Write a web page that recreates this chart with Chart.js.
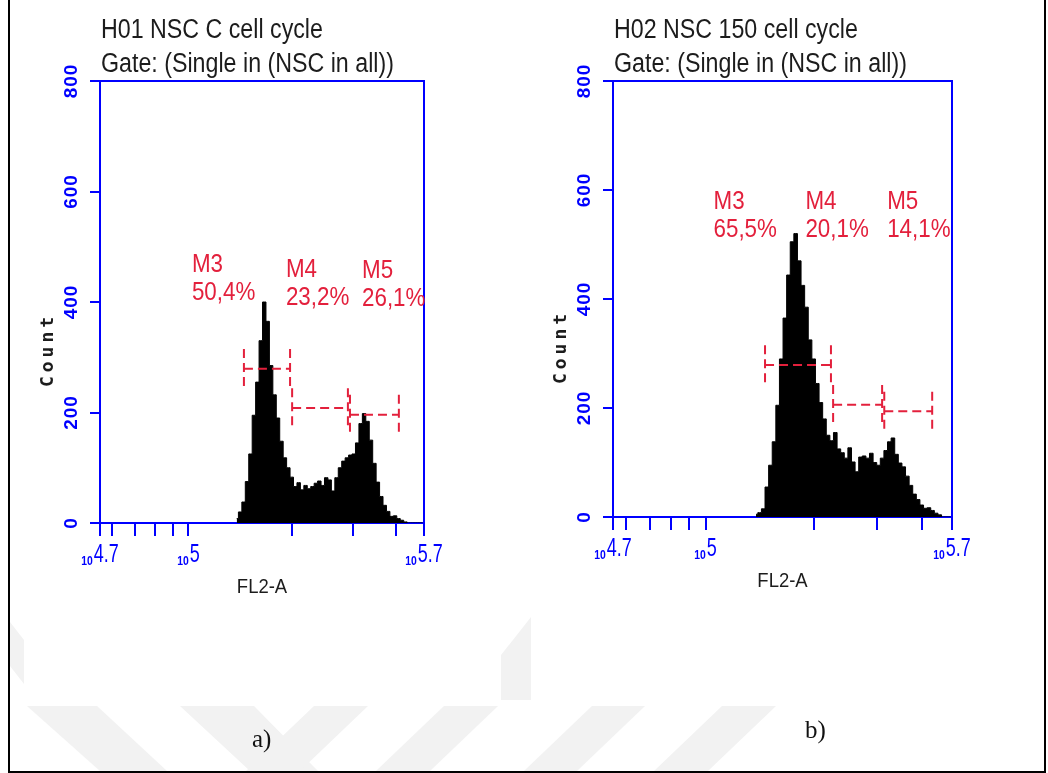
<!DOCTYPE html>
<html>
<head>
<meta charset="utf-8">
<script src="https://cdn.jsdelivr.net/npm/chart.js@4.4.1/dist/chart.umd.min.js"></script>
<style>
  html, body { margin: 0; padding: 0; background: #fff; }
  #page { position: relative; width: 1048px; height: 773px; overflow: hidden; background: #fff; }
  #wm { position: absolute; left: 0; top: 0; }
  canvas { position: absolute; top: 0; }
  #chartA { left: 0; }
  #chartB { left: 524px; }
  .frame { position: absolute; left: 8px; top: 0; width: 1038px; height: 773px; border: 2px solid #000; border-top: none; box-sizing: border-box; }
  .sub { position: absolute; font-family: "Liberation Serif", "DejaVu Serif", serif; font-size: 25px; color: #111; }
</style>
</head>
<body>
<div id="page">
  <svg id="wm" width="1048" height="773">
    <g fill="#f2f2f2">
      <polygon points="10,622 24,640 24,684 10,666"/>
      <polygon points="501,655 531,617 531,700 501,700"/>
      <polygon points="27,706 97,706 167,771 100,771"/>
      <polygon points="180,706 254,706 318,771 250,771"/>
      <polygon points="314,706 368,706 300,771 246,771"/>
      <polygon points="444,706 498,706 430,771 376,771"/>
      <polygon points="592,706 645,706 577,771 524,771"/>
      <polygon points="722,706 776,706 708,771 654,771"/>
    </g>
  </svg>
  <canvas id="chartA" width="524" height="773"></canvas>
  <canvas id="chartB" width="524" height="773"></canvas>
  <div class="frame"></div>
  <div class="sub" style="left:252px; top:725px;">a)</div>
  <div class="sub" style="left:805px; top:716px;">b)</div>
</div>
<script>
// FL2-A axis is log10 of the channel value
const xMin = 4.743;
const xMax = 5.684;
const xTicks = [4.743, 4.778, 4.845, 4.903, 4.954, 5, 5.301, 5.477, 5.602, 5.684];
const xLabelTicks = [4.743, 5, 5.684];
const xLabelText = ["4.7", "5", "5.7"];
const yTicks = [0, 200, 400, 600, 800];

// histogram bins (log10 FL2-A)
const binLog = [5.14, 5.15, 5.16, 5.17, 5.18, 5.19, 5.20, 5.21, 5.22, 5.23,
  5.24, 5.25, 5.26, 5.27, 5.28, 5.29, 5.30, 5.31, 5.32, 5.33,
  5.34, 5.35, 5.36, 5.37, 5.38, 5.39, 5.40, 5.41, 5.42, 5.43,
  5.44, 5.45, 5.46, 5.47, 5.48, 5.49, 5.50, 5.51, 5.52, 5.53,
  5.54, 5.55, 5.56, 5.57, 5.58, 5.59, 5.60, 5.61, 5.62, 5.63,
  5.64, 5.65, 5.66, 5.67, 5.68];

const countsA = [8, 20, 38, 75, 125, 195, 255, 330, 400, 365,
  285, 232, 190, 148, 118, 100, 83, 66, 73, 60,
  68, 62, 66, 72, 76, 68, 82, 78, 58, 82,
  100, 112, 118, 123, 125, 145, 180, 198, 184, 150,
  108, 74, 48, 32, 21, 12, 13, 8, 5, 2,
  0, 0, 0, 0, 0];

const countsB = [5, 8, 15, 55, 95, 138, 205, 290, 365, 444,
  505, 520, 470, 425, 385, 325, 290, 245, 210, 180,
  150, 140, 155, 125, 118, 108, 127, 101, 83, 110,
  112, 108, 117, 100, 95, 108, 122, 138, 145, 115,
  99, 92, 75, 58, 42, 32, 22, 16, 17, 12,
  7, 4, 0, 0, 0];

const titlesA = ["H01 NSC C cell cycle", "Gate: (Single in (NSC in all))"];
const titlesB = ["H02 NSC 150 cell cycle", "Gate: (Single in (NSC in all))"];

// gates
const markerNames = ["M3", "M4", "M5"];
const markerStartA = [5.161, 5.301, 5.469];
const markerEndA = [5.295, 5.463, 5.611];
const markerLevelA = [279, 208, 196];
const percentA = ["50,4%", "23,2%", "26,1%"];
const labelXA = [5.010, 5.283, 5.504];
const labelYA = [454, 445, 443];

const markerStartB = [5.165, 5.354, 5.496];
const markerEndB = [5.348, 5.490, 5.629];
const markerLevelB = [279, 206, 194];
const percentB = ["65,5%", "20,1%", "14,1%"];
const labelXB = [5.022, 5.277, 5.504];
const labelYB = [565, 565, 565];

const AXIS = "#0000ff";
const RED = "#e3203c";
const TEXT = "#1c1c1c";
const MARK_HALF = 36;

function drawText(ctx, text, x, y, font, color, hscale, align, rotate, spacing) {
  ctx.save();
  ctx.font = font;
  ctx.fillStyle = color;
  ctx.textAlign = align || "left";
  ctx.textBaseline = "alphabetic";
  if (spacing) ctx.letterSpacing = spacing;
  ctx.translate(x, y);
  if (rotate) ctx.rotate(rotate);
  ctx.scale(hscale || 1, 1);
  ctx.fillText(text, 0, 0);
  ctx.restore();
}

function textWidth(ctx, text, font, hscale) {
  ctx.save();
  ctx.font = font;
  const w = ctx.measureText(text).width * (hscale || 1);
  ctx.restore();
  return w;
}

const facsText = {
  id: "facsText",
  afterDraw(chart, args, opts) {
    const ctx = chart.ctx;
    const area = chart.chartArea;
    const xs = chart.scales.x;
    const ys = chart.scales.y;

    // box top and right side
    ctx.save();
    ctx.strokeStyle = AXIS;
    ctx.lineWidth = 2;
    ctx.beginPath();
    ctx.moveTo(area.left, area.top);
    ctx.lineTo(area.right, area.top);
    ctx.lineTo(area.right, area.bottom);
    ctx.stroke();
    ctx.restore();

    // titles
    const tFont = '27px "Liberation Sans", Arial, sans-serif';
    drawText(ctx, opts.titles[0], area.left + 1, area.top - 43, tFont, TEXT, 0.86);
    drawText(ctx, opts.titles[1], area.left + 1, area.top - 9, tFont, TEXT, 0.86);

    // y tick labels, rotated
    const yFont = 'bold 19px "Liberation Sans", Arial, sans-serif';
    yTicks.forEach(v => {
      const py = ys.getPixelForValue(v);
      ctx.save();
      ctx.font = yFont;
      ctx.fillStyle = AXIS;
      ctx.textAlign = "center";
      ctx.textBaseline = "middle";
      ctx.letterSpacing = "1px";
      ctx.translate(area.left - 28, py);
      ctx.rotate(-Math.PI / 2);
      ctx.fillText(String(v), 0, 0);
      ctx.restore();
    });

    // Count
    ctx.save();
    ctx.font = 'bold 18px "DejaVu Sans Mono", monospace';
    ctx.fillStyle = TEXT;
    ctx.textAlign = "center";
    ctx.textBaseline = "middle";
    ctx.letterSpacing = "4px";
    ctx.translate(area.left - 52, (area.top + area.bottom) / 2 + 48);
    ctx.rotate(-Math.PI / 2);
    ctx.fillText("Count", 0, 0);
    ctx.restore();

    // x tick labels: small 10 then exponent
    const subFont = 'bold 13px "Liberation Sans", Arial, sans-serif';
    const expFont = '25px "Liberation Sans", Arial, sans-serif';
    xLabelTicks.forEach((v, i) => {
      const px = xs.getPixelForValue(v);
      const ws = textWidth(ctx, "10", subFont, 0.8);
      const we = textWidth(ctx, xLabelText[i], expFont, 0.72);
      const start = px - (ws + we + 1) / 2;
      drawText(ctx, "10", start, area.bottom + 42, subFont, AXIS, 0.8);
      drawText(ctx, xLabelText[i], start + ws + 1, area.bottom + 39, expFont, AXIS, 0.72);
    });

    // axis title
    drawText(ctx, "FL2-A", (area.left + area.right) / 2, area.bottom + 70,
      '21px "Liberation Sans", Arial, sans-serif', TEXT, 0.88, "center");

    // gate labels
    const mFont = '26px "Liberation Sans", Arial, sans-serif';
    markerNames.forEach((name, i) => {
      const px = xs.getPixelForValue(opts.labelX[i]);
      const py = ys.getPixelForValue(opts.labelY[i]);
      drawText(ctx, name, px, py, mFont, RED, 0.86);
      drawText(ctx, opts.percent[i], px, py + 28, mFont, RED, 0.86);
    });
  }
};

function markerData(starts, ends, levels) {
  const pts = [];
  for (let i = 0; i < starts.length; i++) {
    const s = starts[i], e = ends[i], l = levels[i];
    pts.push({ x: s, y: l + MARK_HALF }, { x: s, y: l - MARK_HALF }, { x: s, y: null });
    pts.push({ x: s, y: l }, { x: e, y: l }, { x: e, y: null });
    pts.push({ x: e, y: l + MARK_HALF }, { x: e, y: l - MARK_HALF }, { x: e, y: null });
  }
  return pts;
}

function createHistogram(canvasId, counts, padding, opts) {
  const canvas = document.querySelector(canvasId);
  const hist = [];
  for (let i = 0; i < binLog.length; i++) {
    hist.push({ x: binLog[i], y: counts[i] });
  }

  return new Chart(canvas.getContext("2d"), {
    type: "line",
    data: {
      datasets: [{
        label: "Count",
        data: hist,
        stepped: "middle",
        fill: "origin",
        backgroundColor: "#000",
        borderColor: "#000",
        borderWidth: 1,
        pointRadius: 0,
        order: 2,
      }, {
        label: "Gates",
        data: markerData(opts.starts, opts.ends, opts.levels),
        borderColor: RED,
        borderWidth: 2,
        borderDash: [9, 5],
        pointRadius: 0,
        fill: false,
        spanGaps: false,
        order: 1,
      }],
    },
    options: {
      responsive: false,
      animation: false,
      events: [],
      layout: { padding: padding },
      plugins: {
        legend: { display: false },
        tooltip: { enabled: false },
        facsText: opts,
      },
      scales: {
        x: {
          type: "linear",
          min: xMin,
          max: xMax,
          afterBuildTicks: s => { s.ticks = xTicks.map(v => ({ value: v })); },
          afterFit: s => { s.height = 0; },
          ticks: { display: false },
          grid: { drawOnChartArea: false, color: AXIS, lineWidth: 2, tickLength: 13 },
          border: { color: AXIS, width: 2 },
        },
        y: {
          type: "linear",
          min: 0,
          max: 800,
          afterBuildTicks: s => { s.ticks = yTicks.map(v => ({ value: v })); },
          afterFit: s => { s.width = 0; },
          ticks: { display: false },
          grid: { drawOnChartArea: false, color: AXIS, lineWidth: 2, tickLength: 10 },
          border: { color: AXIS, width: 2 },
        },
      },
    },
    plugins: [facsText],
  });
}

createHistogram("#chartA", countsA, { left: 100, top: 81, right: 100, bottom: 250 }, {
  titles: titlesA, starts: markerStartA, ends: markerEndA, levels: markerLevelA,
  percent: percentA, labelX: labelXA, labelY: labelYA,
});

createHistogram("#chartB", countsB, { left: 89, top: 81, right: 96, bottom: 256 }, {
  titles: titlesB, starts: markerStartB, ends: markerEndB, levels: markerLevelB,
  percent: percentB, labelX: labelXB, labelY: labelYB,
});
</script>
</body>
</html>
